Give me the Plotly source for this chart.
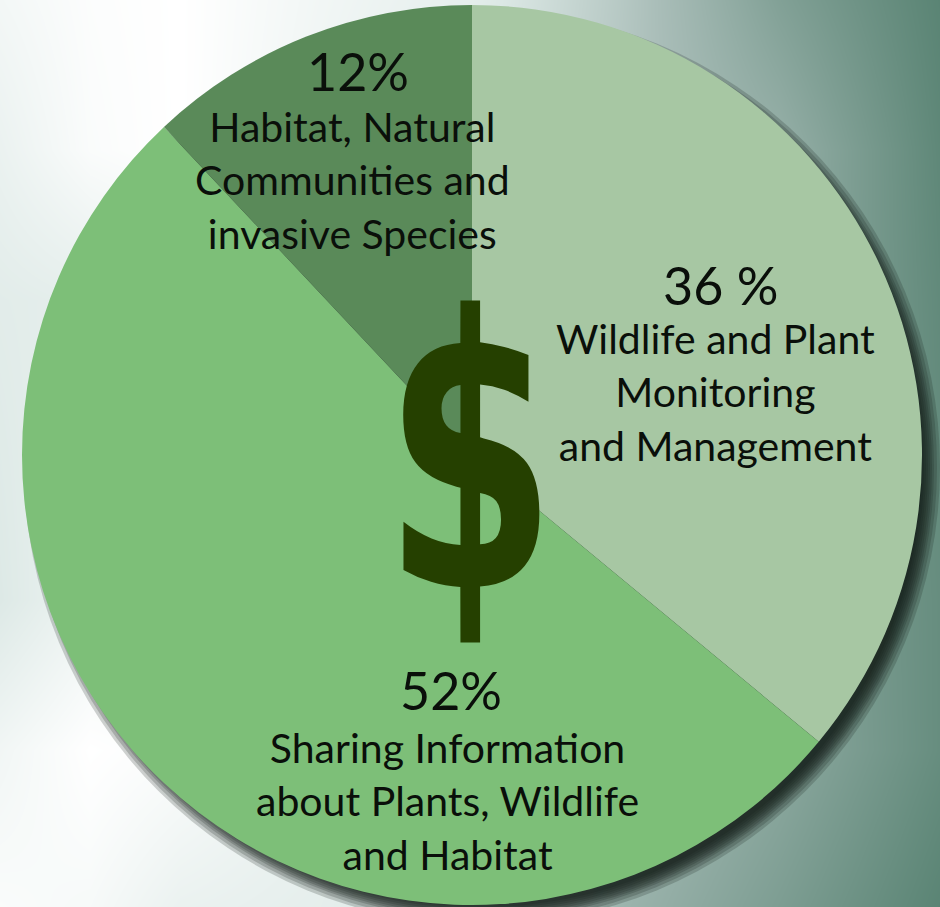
import plotly.graph_objects as go

W, H = 940, 907

# chart data
share_values = [36, 52, 12]
share_labels = ["36 %", "52%", "12%"]
share_names = [
    "Wildlife and Plant<br>Monitoring<br>and Management",
    "Sharing Information<br>about Plants, Wildlife<br>and Habitat",
    "Habitat, Natural<br>Communities and<br>invasive Species",
]
slice_colors = ["#a7c7a3", "#7dbf78", "#5a8a59"]

# background sheen, darkness
bg_x = [0, 90, 180, 320, 470, 620, 780, 940]
bg_y = [0, 150, 300, 600, 750, 907]
bg_dark = [
    [0.07, 0.02, 0.00, 0.08, 0.15, 0.42, 0.75, 1.00],
    [0.12, 0.03, 0.00, 0.10, 0.20, 0.45, 0.62, 0.97],
    [0.17, 0.15, 0.10, 0.15, 0.25, 0.50, 0.65, 0.95],
    [0.20, 0.10, 0.05, 0.15, 0.25, 0.50, 0.70, 0.92],
    [0.08, 0.00, 0.03, 0.12, 0.25, 0.50, 0.68, 0.92],
    [0.03, 0.05, 0.12, 0.15, 0.22, 0.58, 0.78, 1.00],
]

# soft drop shadow: diameters of stacked translucent discs
shadow_diameters = [880, 884, 888, 892, 896, 900, 904, 910, 916]

CX, CY, R = 472, 455, 450

fig = go.Figure()
fig.add_trace(go.Heatmap(
    x=bg_x, y=bg_y, z=bg_dark, zmin=0, zmax=1, zsmooth="best", showscale=False,
    colorscale=[[0, "#ffffff"], [0.2, "#dde9e6"], [0.5, "#a9bdb8"], [1, "#5a8474"]], hoverinfo="skip",
))
for d in reversed(shadow_diameters):
    fig.add_trace(go.Scatter(
        x=[CX + 10], y=[CY + 12], mode="markers", hoverinfo="skip", showlegend=False,
        marker=dict(size=d, color="rgba(20,28,26,0.20)", line=dict(width=0)),
    ))
fig.add_trace(go.Pie(
    values=share_values, labels=share_names, sort=False, direction="clockwise", rotation=0,
    marker=dict(colors=slice_colors, line=dict(width=0)),
    textinfo="none", hoverinfo="skip", showlegend=False,
    domain=dict(x=[(CX - R) / W, (CX + R) / W], y=[1 - (CY + R) / H, 1 - (CY - R) / H]),
))

FONT = "Lato"
name_pos = [(715, 392), (447, 801), (352, 180)]
pct_pos = [(720, 285), (451, 690), (358, 71)]


def note(x, y, text, size, family=FONT, color="#0a0f0a"):
    fig.add_annotation(
        x=x / W, y=1 - y / H, xref="paper", yref="paper", text=text, showarrow=False,
        font=dict(family=family, size=size, color=color), align="center",
        xanchor="center", yanchor="middle",
    )


note(470, 456, "<b>$</b>", 377, family="DejaVu Sans Condensed, DejaVu Sans", color="#254000")
for (x, y), (px, py), name, pct in zip(name_pos, pct_pos, share_names, share_labels):
    note(x, y, name, 41)
    note(px, py, pct, 52)

fig.update_layout(
    width=W, height=H, margin=dict(l=0, r=0, t=0, b=0), showlegend=False,
    paper_bgcolor="#ffffff", plot_bgcolor="#ffffff",
    xaxis=dict(range=[0, W], visible=False, fixedrange=True),
    yaxis=dict(range=[H, 0], visible=False, fixedrange=True),
)
# the reference's dollar sign is narrower than any installed face: squeeze the real text
squeeze = """
document.body.style.margin='0';
document.documentElement.style.overflow='hidden';
document.querySelectorAll('text.annotation-text').forEach(function (t) {
  if (t.textContent.trim() === '$') {
    t.style.transformBox = 'fill-box';
    t.style.transformOrigin = 'center';
    t.style.transform = 'scaleX(0.73)';
  }
});
"""
fig.write_html("out.html", config=dict(displayModeBar=False), post_script=squeeze)
